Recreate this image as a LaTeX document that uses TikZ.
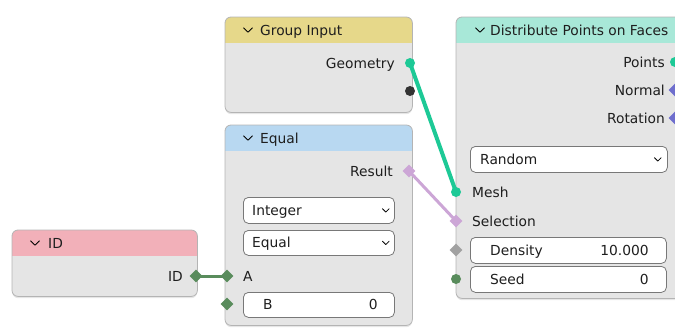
\documentclass[tikz,border=0pt]{standalone}
\usepackage{fontspec}
\setmainfont{DejaVu Sans}
\usetikzlibrary{shapes.geometric,positioning,calc,shadows}
\definecolor{nodebody}{RGB}{229,229,229}
\definecolor{nodeframe}{RGB}{180,180,180}
\definecolor{fieldframe}{RGB}{120,120,120}
\definecolor{inktext}{RGB}{30,30,30}
\definecolor{idhead}{RGB}{242,176,185}
\definecolor{grouphead}{RGB}{230,216,138}
\definecolor{equalhead}{RGB}{184,216,241}
\definecolor{disthead}{RGB}{168,232,216}
\definecolor{geocol}{RGB}{29,201,150}
\definecolor{boolcol}{RGB}{204,166,214}
\definecolor{intcol}{RGB}{89,140,92}
\definecolor{floatcol}{RGB}{161,161,161}
\definecolor{veccol}{RGB}{110,110,205}
\pgfdeclarelayer{back}
\pgfdeclarelayer{wires}
\pgfsetlayers{back,wires,main}
\begin{document}
\begin{tikzpicture}
[x=1pt,y=-1pt,font=\fontsize{13.8}{16}\selectfont,text=inktext,
block/.style={fill=nodebody,rounded corners=6pt,anchor=north west,inner sep=0pt,
  drop shadow={opacity=.2,shadow xshift=0pt,shadow yshift=-2pt}},
field/.style={draw=fieldframe,fill=white,rounded corners=5pt,line width=.8pt,
  anchor=north west,inner sep=0pt,minimum height=26pt},
lbl/.style={inner sep=0pt},
sockc/.style={circle,inner sep=0pt,minimum size=10pt,fill=#1},
sockd/.style={diamond,inner sep=0pt,minimum size=13pt,fill=#1},
wire/.style={line width=3pt,draw=#1},
chev/.pic={\draw[line width=.8pt,line cap=round,line join=round] (-4.5,-2.2) -- (0,2.2) -- (4.5,-2.2);}]
\useasboundingbox (0,0) rectangle (675,327);
%%
\begin{pgfonlayer}{back}
\node[block,minimum width=185pt,minimum height=66pt] (idn) at (12,230) {};
\node[block,minimum width=187pt,minimum height=95pt] (grp) at (225,17) {};
\node[block,minimum width=187pt,minimum height=200pt] (eq) at (225,125) {};
\node[block,minimum width=234pt,minimum height=281pt] (dist) at (456,17) {};
%% headers
\foreach \blk/\hcol in {idn/idhead,grp/grouphead,eq/equalhead,dist/disthead}{
  \begin{scope}
  \clip[rounded corners=6pt] (\blk.north west) rectangle (\blk.south east);
  \fill[\hcol] (\blk.north west) rectangle ([yshift=-26pt]\blk.north east);
  \end{scope}
  \draw[nodeframe,line width=.8pt,rounded corners=6pt] (\blk.north west) rectangle (\blk.south east);
}
\end{pgfonlayer}
%%
\pic at (35,243) {chev};
\node[lbl,anchor=base west] (idtitle) at (48,248) {ID};
\node[lbl,anchor=base east] (idlbl) at (183,281) {ID};
\node[sockd=intcol] (idout) at (196,276) {};
%%
\pic at (248,30) {chev};
\node[lbl,anchor=base west] (grptitle) at (260,35) {Group Input};
\node[lbl,anchor=base east] (geolbl) at (395,68) {Geometry};
\node[sockc=geocol] (geoout) at (410,63) {};
\node[sockc=black!80] (grpext) at (410,91) {};
%%
\pic at (248,138) {chev};
\node[lbl,anchor=base west] (eqtitle) at (260,143) {Equal};
\node[lbl,anchor=base east] (reslbl) at (393,176) {Result};
\node[sockd=boolcol] (resout) at (409,171) {};
\node[field,minimum width=151pt] (inttype) at (243,197) {};
\node[lbl,anchor=base west] (inttxt) at ([shift={(9,5)}]inttype.west) {Integer};
\pic[scale=.75] at ([xshift=-9pt]inttype.east) {chev};
\node[field,minimum width=151pt,minimum height=25pt] (cmptype) at (243,230) {};
\node[lbl,anchor=base west] (cmptxt) at ([shift={(9,5)}]cmptype.west) {Equal};
\pic[scale=.75] at ([xshift=-9pt]cmptype.east) {chev};
\node[lbl,anchor=base west] (albl) at (243,281) {A};
\node[sockd=intcol] (ain) at (227,276) {};
\node[field,minimum width=151pt,minimum height=25pt] (bfield) at (243,292) {};
\node[lbl,anchor=base west] (blbl) at ([shift={(20,5)}]bfield.west) {B};
\node[lbl,anchor=base east] (bval) at ([shift={(-17,5)}]bfield.east) {0};
\node[sockd=intcol] (bin) at (227,304) {};
%%
\pic at (480,30) {chev};
\node[lbl,anchor=base west] (disttitle) at (490,35) {Distribute Points on Faces};
\node[lbl,anchor=base east] (ptslbl) at (665,67) {Points};
\node[lbl,anchor=base east] (nrmlbl) at (665,95) {Normal};
\node[lbl,anchor=base east] (rotlbl) at (665,123) {Rotation};
\node[sockc=geocol] (ptsout) at (675,62) {};
\node[sockd=veccol] (nrmout) at (675,90) {};
\node[sockd=veccol] (rotout) at (675,118) {};
\node[field,minimum width=197pt] (randfield) at (470,146) {};
\node[lbl,anchor=base west] (randtxt) at ([shift={(10,5)}]randfield.west) {Random};
\pic[scale=.75] at ([xshift=-10pt]randfield.east) {chev};
\node[lbl,anchor=base west] (meshlbl) at (472,197) {Mesh};
\node[lbl,anchor=base west] (sellbl) at (472,226) {Selection};
\node[sockc=geocol] (meshin) at (456,192) {};
\node[sockd=boolcol] (selin) at (456,221) {};
\node[field,minimum width=196pt] (densfield) at (470,237) {};
\node[lbl,anchor=base west] (denslbl) at ([shift={(20,5)}]densfield.west) {Density};
\node[lbl,anchor=base east] (densval) at ([shift={(-18,5)}]densfield.east) {10.000};
\node[sockd=floatcol] (densin) at (456,250) {};
\node[field,minimum width=196pt] (seedfield) at (470,266) {};
\node[lbl,anchor=base west] (seedlbl) at ([shift={(20,5)}]seedfield.west) {Seed};
\node[lbl,anchor=base east] (seedval) at ([shift={(-18,5)}]seedfield.east) {0};
\node[sockc=intcol] (seedin) at (456,279) {};
%%
\begin{pgfonlayer}{wires}
\draw[wire=geocol,line width=4pt] (geoout.center) -- (meshin.center);
\draw[wire=boolcol] (resout.center) -- (selin.center);
\draw[wire=intcol] (idout.center) -- (ain.center);
\end{pgfonlayer}
\end{tikzpicture}
\end{document}
